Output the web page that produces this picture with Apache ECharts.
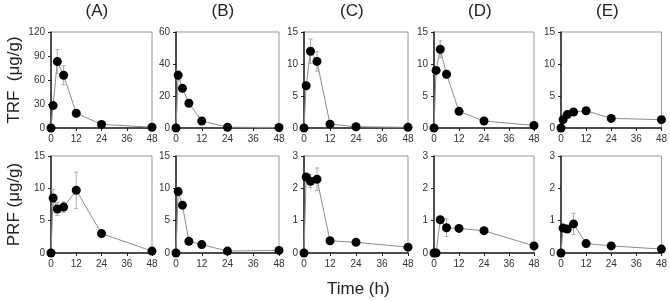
<!DOCTYPE html>
<html>
<head>
<meta charset="utf-8">
<script src="https://cdn.jsdelivr.net/npm/echarts@6/dist/echarts.min.js"></script>
<style>
html,body{margin:0;padding:0;background:#fff;}
#main{width:670px;height:302px;}
</style>
</head>
<body>
<div id="main"></div>
<script>
// sampling times (h)
var times = [0, 1, 3, 6, 12, 24, 48];
var xTicks = [0, 12, 24, 36, 48];
var panelNames = ['(A)', '(B)', '(C)', '(D)', '(E)'];

// TRF (ug/g), top row
var trfA = [0, 28, 83, 66, 18.5, 4.5, 1];
var trfB = [0, 33, 24.8, 15.5, 4.4, 0.5, 0.3];
var trfC = [0, 6.6, 12, 10.4, 0.6, 0.2, 0.1];
var trfD = [0, 9, 12.3, 8.4, 2.6, 1.1, 0.4];
var trfE = [0, 1.3, 2.1, 2.5, 2.7, 1.5, 1.3];
var trfAErr = [0, 2, 15, 12, 2, 1, 0];
var trfBErr = [0, 3, 1.5, 1, 0.5, 0, 0];
var trfCErr = [0, 0.5, 1.9, 1.5, 0.2, 0, 0];
var trfDErr = [0, 0.5, 1.3, 0.6, 0.2, 0.1, 0];
var trfEErr = [0, 0.2, 0.2, 0.2, 0.3, 0.1, 0.1];

// PRF (ug/g), bottom row
var prfA = [0, 8.5, 6.8, 7.1, 9.7, 3.0, 0.3];
var prfB = [0, 9.5, 7.4, 1.8, 1.3, 0.3, 0.4];
var prfC = [0, 2.35, 2.22, 2.28, 0.38, 0.33, 0.18];
var prfD = [0, 0, 1.03, 0.78, 0.76, 0.69, 0.22];
var prfE = [0, 0.77, 0.74, 0.9, 0.29, 0.22, 0.12];
var prfAErr = [0, 1.3, 1.0, 0.8, 2.8, 0.2, 0];
var prfBErr = [0, 0.6, 0.4, 0.2, 0.2, 0, 0];
var prfCErr = [0, 0.1, 0.2, 0.35, 0.03, 0.02, 0];
var prfDErr = [0, 0, 0.05, 0.27, 0.03, 0.03, 0];
var prfEErr = [0, 0.05, 0.08, 0.33, 0.03, 0.02, 0.01];

// y axis max / tick step per panel
var topMax = [120, 60, 15, 15, 15], topStep = [30, 20, 5, 5, 5];
var botMax = [15, 15, 3, 3, 3], botStep = [5, 5, 1, 1, 1];

var trf = [trfA, trfB, trfC, trfD, trfE];
var trfErr = [trfAErr, trfBErr, trfCErr, trfDErr, trfEErr];
var prf = [prfA, prfB, prfC, prfD, prfE];
var prfErr = [prfAErr, prfBErr, prfCErr, prfDErr, prfEErr];

// layout
var colLeft = [51, 176, 304, 434, 561];
var colWidth = [101, 103, 104, 100, 102];
var rowTop = [32, 156], rowHeight = [96, 97];

var grids = [], xAxes = [], yAxes = [], series = [], graphics = [];
var font = 'Liberation Sans, Arial, sans-serif';

function errRender(params, api){
    var x = api.value(0), y = api.value(1), e = api.value(2);
    if(!e) return null;
    var hi = api.coord([x, y + e]);
    var lo = api.coord([x, y - e]);
    var st = {stroke: '#aaa', lineWidth: 1};
    return {
        type: 'group',
        children: [
            {type: 'line', shape: {x1: hi[0], y1: hi[1], x2: lo[0], y2: lo[1]}, style: st},
            {type: 'line', shape: {x1: hi[0] - 2, y1: hi[1], x2: hi[0] + 2, y2: hi[1]}, style: st},
            {type: 'line', shape: {x1: lo[0] - 2, y1: lo[1], x2: lo[0] + 2, y2: lo[1]}, style: st}
        ]
    };
}

for(var r = 0; r < 2; r++){
    for(var c = 0; c < 5; c++){
        var i = r * 5 + c;
        var vals = r == 0 ? trf[c] : prf[c];
        var errs = r == 0 ? trfErr[c] : prfErr[c];
        grids.push({
            left: colLeft[c], top: rowTop[r], width: colWidth[c], height: rowHeight[r],
            show: true, borderColor: '#999', borderWidth: 1, backgroundColor: 'transparent'
        });
        xAxes.push({
            type: 'value', gridIndex: i, min: 0, max: 48, interval: 12,
            axisLine: {show: true, lineStyle: {color: '#222', width: 1.5}},
            axisTick: {show: true, inside: false, length: 3, lineStyle: {color: '#222'}},
            axisLabel: {color: '#333', fontSize: 10, fontFamily: font, margin: 6},
            splitLine: {show: false}
        });
        var ya = {
            type: 'value', gridIndex: i, min: 0,
            max: r == 0 ? topMax[c] : botMax[c],
            interval: r == 0 ? topStep[c] : botStep[c],
            axisLine: {show: true, lineStyle: {color: '#222', width: 1.5}},
            axisTick: {show: true, inside: false, length: 3, lineStyle: {color: '#222'}},
            axisLabel: {color: '#333', fontSize: 10, fontFamily: font, margin: 6},
            splitLine: {show: false}
        };
        if(c == 0){
            ya.name = r == 0 ? 'TRF  (\u03bcg/g)' : 'PRF (\u03bcg/g)';
            ya.nameLocation = 'middle';
            ya.nameGap = 28;
            ya.nameTextStyle = {fontSize: 17, color: '#222', fontFamily: font};
        }
        yAxes.push(ya);

        var pts = [], eb = [];
        for(var k = 0; k < times.length; k++){
            pts.push([times[k], vals[k]]);
            eb.push([times[k], vals[k], errs[k]]);
        }
        series.push({
            type: 'custom', xAxisIndex: i, yAxisIndex: i, data: eb,
            renderItem: errRender, z: 1, silent: true
        });
        series.push({
            type: 'line', xAxisIndex: i, yAxisIndex: i, data: pts,
            symbol: 'circle', symbolSize: 9, clip: false, z: 3,
            lineStyle: {color: '#8c8c8c', width: 1},
            itemStyle: {color: '#000', borderWidth: 0},
            emphasis: {disabled: true}, animation: false
        });
    }
}

for(var c = 0; c < 5; c++){
    graphics.push({
        type: 'text', left: colLeft[c] + colWidth[c] / 2 - 16, top: 3,
        style: {text: panelNames[c], font: '17px ' + font, fill: '#222'}
    });
}
graphics.push({
    type: 'text', left: 327, top: 281,
    style: {text: 'Time (h)', font: '17px ' + font, fill: '#222'}
});

var chart = echarts.init(document.getElementById('main'));
chart.setOption({
    animation: false,
    grid: grids,
    xAxis: xAxes,
    yAxis: yAxes,
    series: series,
    graphic: graphics
});
</script>
</body>
</html>
